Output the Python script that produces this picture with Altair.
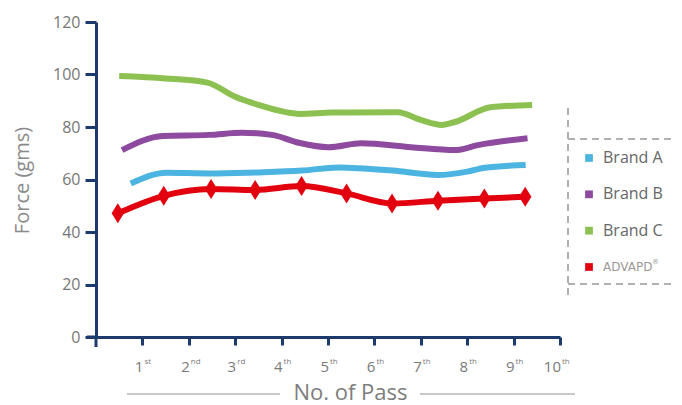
import altair as alt
import pandas as pd

# ---- data ----
series_names = ["Brand A", "Brand B", "Brand C", "ADVAPD®"]
series_colors = ["#4bb4e1", "#8d4a9e", "#8cc152", "#e2000f"]

brand_a_x = [0.75, 1.52, 2.44, 3.43, 4.44, 5.23, 6.39, 7.37, 8.0, 8.38, 9.26]
brand_a_y = [58.5, 62.6, 62.3, 62.7, 63.4, 64.6, 63.4, 61.7, 63.0, 64.5, 65.5]

brand_b_x = [0.56, 1.44, 2.44, 3.15, 3.79, 4.37, 5.01, 5.72, 6.79, 7.74, 8.23, 9.3]
brand_b_y = [71.2, 76.6, 77.0, 77.8, 77.0, 74.0, 72.3, 73.8, 72.3, 71.2, 73.1, 75.7]

brand_c_x = [0.5, 1.5, 2.4, 3.0, 3.5, 4.4, 5.1, 6.5, 7.0, 7.45, 7.75, 8.5, 9.4]
brand_c_y = [99.4, 98.5, 96.9, 91.5, 88.4, 85.0, 85.5, 85.6, 82.7, 80.8, 82.0, 87.5, 88.4]

advapd_x = [0.47, 1.46, 2.48, 3.43, 4.43, 5.4, 6.38, 7.37, 8.37, 9.25]
advapd_y = [47.1, 53.8, 56.4, 56.0, 57.5, 54.7, 50.9, 51.9, 52.8, 53.4]

pass_ticks = [1, 2, 3, 4, 5, 6, 7, 8, 9, 10]
pass_numbers = ["1", "2", "3", "4", "5", "6", "7", "8", "9", "10"]
pass_suffixes = ["st", "nd", "rd", "th", "th", "th", "th", "th", "th", "th"]
y_ticks = [0, 20, 40, 60, 80, 100, 120]

rows = []
for name, xs_, ys_ in zip(series_names,
                          [brand_a_x, brand_b_x, brand_c_x, advapd_x],
                          [brand_a_y, brand_b_y, brand_c_y, advapd_y]):
    for a, b in zip(xs_, ys_):
        rows.append({"series": name, "pass": a, "force": b})
lines_df = pd.DataFrame(rows)
adv_df = lines_df[lines_df["series"] == "ADVAPD®"]
tick_df = pd.DataFrame({"pass": pass_ticks, "num": pass_numbers, "suf": pass_suffixes})
legend_df = pd.DataFrame({"series": series_names})
dummy = pd.DataFrame({"k": [0]})

# ---- styling ----
W, H = 464, 315
NAVY = "#1c3a6c"
x_scale = alt.Scale(domain=[0, 10], nice=False)
y_scale = alt.Scale(domain=[0, 120], nice=False)
color_scale = alt.Scale(domain=series_names, range=series_colors)
legend_y = alt.Y("series:N", scale=alt.Scale(domain=series_names, range=[136, 245], padding=0), axis=None)

x_axis = alt.Axis(values=pass_ticks, labels=False, grid=False, domain=True, ticks=True,
                  domainColor=NAVY, domainWidth=3,
                  tickColor=NAVY, tickWidth=3, tickSize=8, title="No. of Pass",
                  titleFont="Open Sans", titleFontSize=22, titleFontWeight="normal",
                  titleColor="#7d7d7d", titleX=254, titleY=55, titleAlign="center",
                  titleBaseline="middle")
y_axis = alt.Axis(values=y_ticks, grid=False, domainColor=NAVY, domainWidth=3,
                  tickColor=NAVY, tickWidth=3, tickSize=11, labelFont="Open Sans",
                  labelFontSize=16, labelColor="#777777", labelPadding=5,
                  title="Force (gms)", titleFont="Open Sans", titleFontSize=20,
                  titleFontWeight="normal", titleColor="#8a8a8a", titleX=-74, titleY=158,
                  titleAlign="center", titleBaseline="middle")

X = alt.X("pass:Q", scale=x_scale, axis=x_axis)

lines = alt.Chart(lines_df).mark_line(interpolate="monotone", strokeWidth=6).encode(
    x=X,
    y=alt.Y("force:Q", scale=y_scale, axis=y_axis),
    color=alt.Color("series:N", scale=color_scale, legend=None),
)

diamonds = alt.Chart(adv_df).mark_point(
    shape="M0,-1L0.62,0L0,1L-0.62,0Z", filled=True, size=400, opacity=1
).encode(
    x=X,
    y=alt.Y("force:Q", scale=y_scale, axis=None),
    color=alt.value("#e2000f"),
)

tick_nums = alt.Chart(tick_df).mark_text(
    align="right", baseline="middle", font="Open Sans", fontSize=15, color="#7a7a7a", dx=1
).encode(x=X, y=alt.value(H + 30), text="num:N")

tick_sufs = alt.Chart(tick_df).mark_text(
    align="left", baseline="middle", font="Open Sans", fontSize=8, color="#7a7a7a", dx=2
).encode(x=X, y=alt.value(H + 25), text="suf:N")

leg_sq = alt.Chart(legend_df).mark_square(size=60, opacity=1).encode(
    x=alt.value(493), y=legend_y,
    color=alt.Color("series:N", scale=color_scale, legend=None),
)
leg_txt = alt.Chart(legend_df).transform_filter(alt.datum.series != "ADVAPD®").mark_text(
    align="left", baseline="middle", font="Open Sans", fontSize=16, color="#666666"
).encode(x=alt.value(507), y=legend_y, text="series:N")
leg_adv = alt.Chart(legend_df).transform_filter(alt.datum.series == "ADVAPD®").transform_calculate(
    base="replace(datum.series, '®', '')"
).mark_text(
    align="left", baseline="middle", font="DejaVu Sans", fontSize=12, color="#9a9a9a"
).encode(x=alt.value(507), y=legend_y, text="base:N")
leg_reg = alt.Chart(legend_df).transform_filter(alt.datum.series == "ADVAPD®").transform_calculate(
    mark="'®'"
).mark_text(
    align="left", baseline="middle", font="DejaVu Sans", fontSize=7, color="#9a9a9a", dy=-5
).encode(x=alt.value(556), y=legend_y, text="mark:N")

dash_style = dict(strokeDash=[7, 5], color="#b0b0b0", strokeWidth=2)
box_v = alt.Chart(dummy).mark_rule(**dash_style).encode(
    x=alt.value(472), y=alt.value(86), y2=alt.value(275))
box_t = alt.Chart(dummy).mark_rule(**dash_style).encode(
    x=alt.value(472), x2=alt.value(590), y=alt.value(117))
box_b = alt.Chart(dummy).mark_rule(**dash_style).encode(
    x=alt.value(472), x2=alt.value(590), y=alt.value(262))

title_l = alt.Chart(dummy).mark_rule(color="#c8c8c8", strokeWidth=2).encode(
    x=alt.value(31), x2=alt.value(184), y=alt.value(372))
title_r = alt.Chart(dummy).mark_rule(color="#c8c8c8", strokeWidth=2).encode(
    x=alt.value(324), x2=alt.value(479), y=alt.value(372))

over_y = alt.Chart(dummy).mark_rule(color=NAVY, strokeWidth=3).encode(
    x=alt.value(0), y=alt.value(H), y2=alt.value(H + 10))
over_x = alt.Chart(dummy).mark_rule(color=NAVY, strokeWidth=3).encode(
    x=alt.value(-9), x2=alt.value(0), y=alt.value(H))

chart = alt.layer(
    lines, diamonds, tick_nums, tick_sufs, leg_sq, leg_txt, leg_adv, leg_reg,
    box_v, box_t, box_b, title_l, title_r, over_y, over_x,
).resolve_scale(y="independent").properties(
    width=W, height=H,
    autosize=alt.AutoSizeParams(type="none"),
    padding={"left": 88, "top": 14, "right": 112, "bottom": 67},
).configure_view(stroke=None)

chart.save("out.html", embed_options={"renderer": "svg", "actions": False})
